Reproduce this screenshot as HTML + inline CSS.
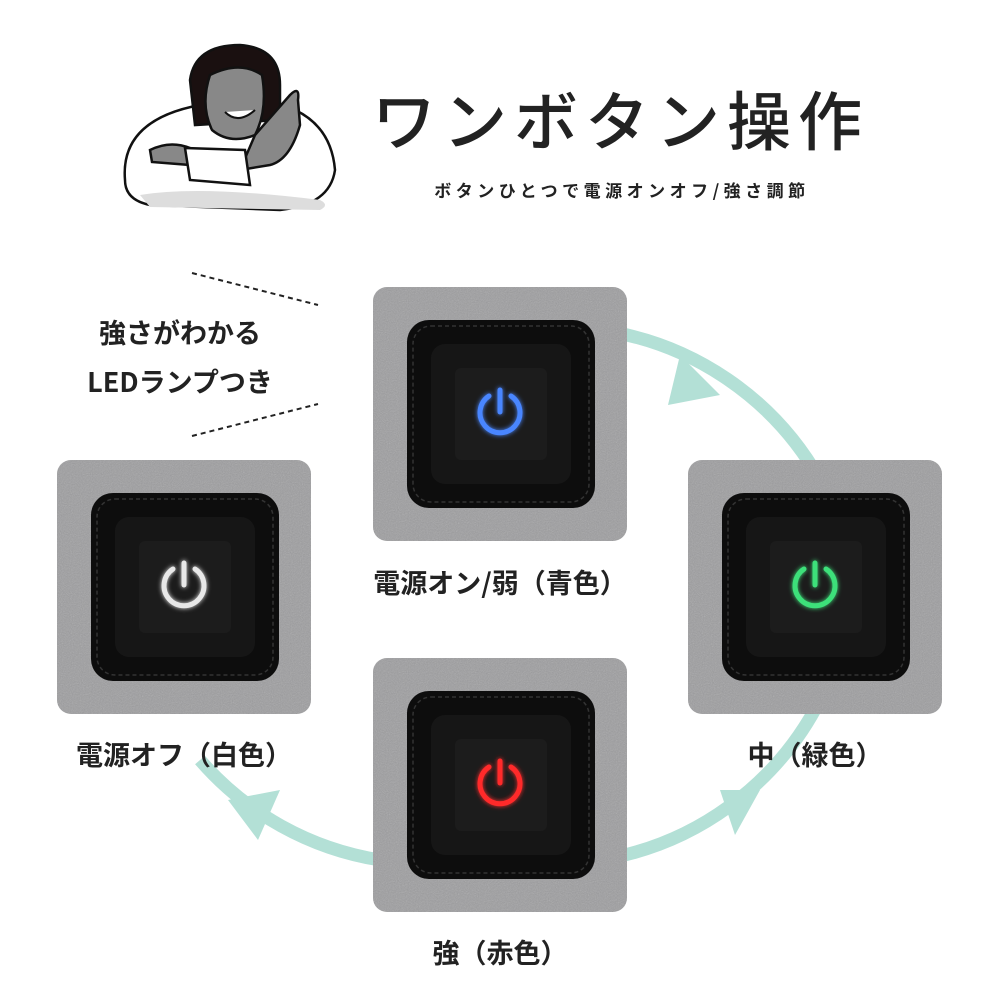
<!DOCTYPE html>
<html><head><meta charset="utf-8"><style>
body{margin:0;background:#fff;width:1000px;height:1000px;overflow:hidden;font-family:"Liberation Sans","Noto Sans CJK JP",sans-serif}
svg{display:block}
text{font-family:"Noto Sans CJK JP","Liberation Sans",sans-serif;fill:#222}
</style></head><body>
<svg width="1000" height="1000" viewBox="0 0 1000 1000">
<defs>
<filter id="g" x="-50%" y="-50%" width="200%" height="200%"><feGaussianBlur stdDeviation="2.5" result="b"/><feMerge><feMergeNode in="b"/><feMergeNode in="SourceGraphic"/></feMerge></filter>
<filter id="n"><feTurbulence type="fractalNoise" baseFrequency="0.9" numOctaves="2" result="t"/><feColorMatrix type="saturate" values="0" in="t" result="m"/><feComponentTransfer in="m"><feFuncA type="linear" slope="0.35"/></feComponentTransfer><feComposite in2="SourceGraphic" operator="in"/></filter>
<g id="btn">
<rect x="0" y="0" width="254" height="254" rx="14" fill="#9d9d9f"/>
<rect x="0" y="0" width="254" height="254" rx="14" fill="#fff" filter="url(#n)"/>
<rect x="34" y="33" width="188" height="188" rx="22" fill="#0d0d0d"/>
<rect x="40" y="39" width="176" height="176" rx="18" fill="none" stroke="#333" stroke-width="1.5" stroke-dasharray="4 3"/>
<rect x="58" y="57" width="140" height="140" rx="14" fill="#161616"/>
<rect x="82" y="81" width="92" height="92" rx="6" fill="#1c1c1c"/>
</g>
</defs>
<g fill="none" stroke="#b3e0d6" stroke-width="13">
<path d="M600 330 A300 300 0 0 1 820 480"/>
<path d="M820 700 A300 300 0 0 1 600 860"/>
<path d="M380 860 A300 300 0 0 1 200 760"/>
</g>
<g fill="#b3e0d6">
<polygon points="680,355 720,395 668,405"/>
<polygon points="720,790 760,790 735,835"/>
<polygon points="228,800 280,790 258,840"/>
</g>
<use href="#btn" x="373" y="287"/>
<use href="#btn" x="57" y="460"/>
<use href="#btn" x="688" y="460"/>
<use href="#btn" x="373" y="658"/>
<g fill="none" stroke-width="5" stroke-linecap="round" filter="url(#g)">
<g stroke="#4a86ff"><path d="M489 396 A20 20 0 1 0 511 396"/><line x1="500" y1="390" x2="500" y2="412"/></g>
<g stroke="#e8e8e8"><path d="M173 569 A20 20 0 1 0 195 569"/><line x1="184" y1="563" x2="184" y2="585"/></g>
<g stroke="#3ee07a"><path d="M804 569 A20 20 0 1 0 826 569"/><line x1="815" y1="563" x2="815" y2="585"/></g>
<g stroke="#ff2a2a"><path d="M489 767 A20 20 0 1 0 511 767"/><line x1="500" y1="761" x2="500" y2="783"/></g>
</g>
<text x="500" y="593" font-size="27" font-weight="700" text-anchor="middle">電源オン/弱（青色）</text>
<text x="184" y="765" font-size="27" font-weight="700" text-anchor="middle">電源オフ（白色）</text>
<text x="815" y="765" font-size="27" font-weight="700" text-anchor="middle">中（緑色）</text>
<text x="500" y="963" font-size="27" font-weight="700" text-anchor="middle">強（赤色）</text>
<text x="180" y="343" font-size="27" font-weight="700" text-anchor="middle">強さがわかる</text>
<text x="180" y="392" font-size="27" font-weight="700" text-anchor="middle">LEDランプつき</text>
<line x1="192" y1="273" x2="318" y2="305" stroke="#222" stroke-width="2" stroke-dasharray="5 4"/>
<line x1="192" y1="436" x2="318" y2="404" stroke="#222" stroke-width="2" stroke-dasharray="5 4"/>
<text x="372" y="145" font-size="64" font-weight="500" letter-spacing="7">ワンボタン操作</text>
<text x="622" y="197" font-size="17" font-weight="700" text-anchor="middle" letter-spacing="4.5">ボタンひとつで電源オンオフ/強さ調節</text>
<g stroke="#111" stroke-width="2.5">
<path d="M125 180 Q120 120 200 105 L260 100 Q330 110 335 170 Q330 205 280 210 L150 205 Q125 200 125 180Z" fill="#fff"/>
<path d="M140 195 Q200 185 320 200 Q330 205 320 210 L150 207Z" fill="#ddd" stroke="none"/>
<path d="M190 80 Q195 45 240 45 Q280 48 280 85 L280 120 L195 125Z" fill="#1a1010"/>
<path d="M210 75 Q240 60 262 75 Q268 110 255 135 Q230 145 212 130 Q200 105 210 75Z" fill="#888"/>
<path d="M225 112 Q238 125 255 110" fill="#fff" stroke-width="2"/>
<path d="M255 135 L290 95 Q300 85 298 100 L300 125 Q290 160 270 165 L240 170Z" fill="#888"/>
<path d="M150 150 Q170 140 190 148 L190 165 L152 162Z" fill="#888"/>
<path d="M185 148 L245 150 L250 185 L190 180Z" fill="#fff"/>
</g>
</svg>
</body></html>
